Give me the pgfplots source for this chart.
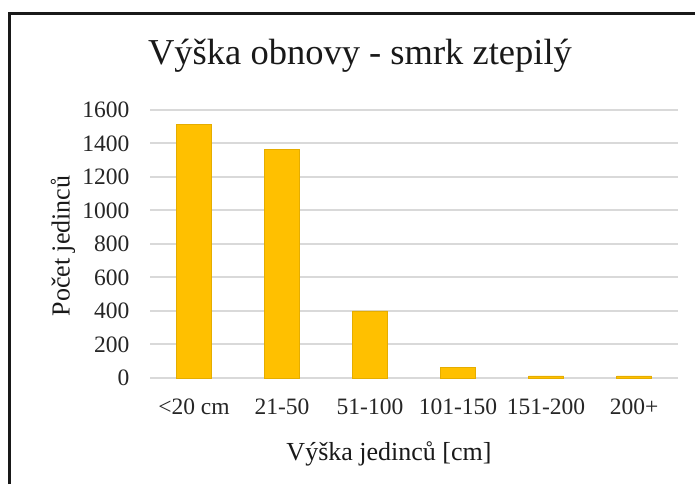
\documentclass[border=0pt]{standalone}
\usepackage{pgfplots}
\pgfplotsset{compat=1.18}
\usepackage{fontspec}
\setmainfont{Liberation Serif}
\definecolor{barc}{HTML}{FFC000}
\definecolor{gridc}{HTML}{D9D9D9}
\begin{document}
\begin{tikzpicture}[x=1pt,y=1pt]
\path[use as bounding box] (0,0) rectangle (695,484);
\fill[white] (0,0) rectangle (695,484);
\draw[line width=3pt, black!90] (9,0) -- (9,470) -- (697,470);
\begin{axis}[
  at={(150pt,106pt)}, anchor=south west,
  width=528pt, height=268pt, scale only axis,
  xmin=-0.5, xmax=5.5, ymin=0, ymax=1600,
  xtick={0,1,2,3,4,5},
  xticklabels={{<20 cm},{21-50},{51-100},{101-150},{151-200},{200+}},
  ytick={0,200,400,600,800,1000,1200,1400,1600},
  ymajorgrids, grid style={gridc, line width=2pt},
  axis line style={draw=none},
  major tick style={draw=none},
  /pgf/number format/assume math mode=true,
  /pgf/number format/1000 sep={},
  tick label style={font=\fontsize{23.5}{27}\selectfont, black!85},
  yticklabel style={xshift=-17pt},
  xticklabel style={yshift=-17pt},
  clip=false,
]
\addplot[ybar, bar width=35pt, fill=barc, draw=barc!90!black, line width=0.4pt]
  coordinates {(0,1515) (1,1366) (2,401) (3,64) (4,12) (5,12)};
\end{axis}
\node[font=\fontsize{36.5}{42}\selectfont, black!90] at (360,428) {Výška obnovy - smrk ztepilý};
\node[font=\fontsize{26}{30}\selectfont, black!90] at (389,30) {Výška jedinců [cm]};
\node[font=\fontsize{26}{30}\selectfont, black!90, rotate=90] at (63,238) {Počet jedinců};
\end{tikzpicture}
\end{document}
